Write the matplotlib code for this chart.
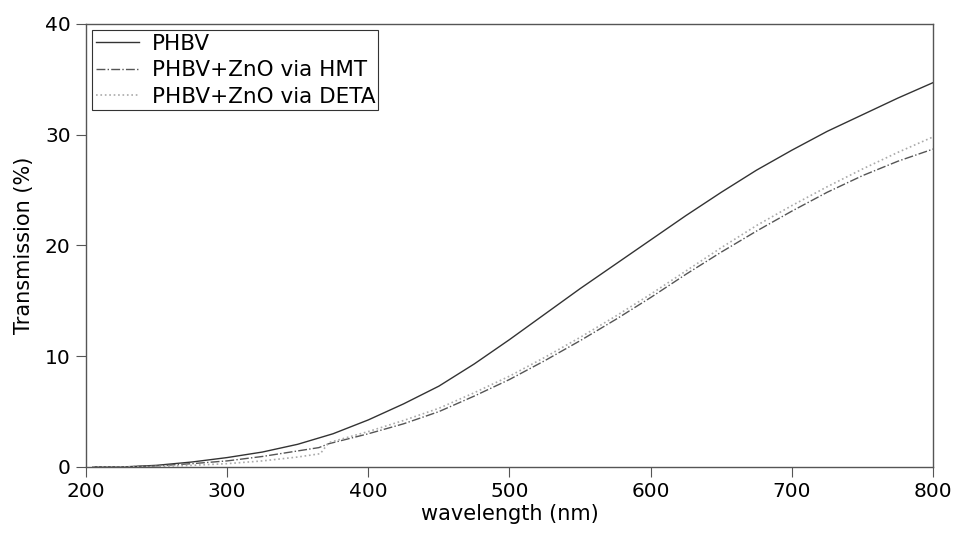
import numpy as np
import matplotlib.pyplot as plt

# wavelength (nm) and transmission (%)
wl_phbv = [205, 225, 250, 275, 300, 325, 350, 375, 400, 425, 450, 475, 500, 525,
           550, 575, 600, 625, 650, 675, 700, 725, 750, 775, 800]
phbv = [0.0, 0.0, 0.15, 0.45, 0.85, 1.35, 2.05, 3.0, 4.25, 5.7, 7.3, 9.3, 11.5, 13.8,
        16.1, 18.3, 20.5, 22.7, 24.8, 26.8, 28.6, 30.3, 31.8, 33.3, 34.7]

wl_hmt = [205, 225, 250, 275, 300, 325, 350, 365, 372, 400, 425, 450, 475, 500, 525,
          550, 575, 600, 625, 650, 675, 700, 725, 750, 775, 800]
hmt = [0.0, 0.0, 0.1, 0.3, 0.55, 0.95, 1.45, 1.75, 2.1, 3.0, 3.9, 5.0, 6.4, 7.9, 9.6,
       11.4, 13.3, 15.3, 17.4, 19.4, 21.3, 23.1, 24.8, 26.3, 27.6, 28.7]

wl_deta = [205, 225, 250, 275, 300, 325, 350, 366, 372, 400, 425, 450, 475, 500, 525,
           550, 575, 600, 625, 650, 675, 700, 725, 750, 775, 800]
deta = [0.0, 0.0, 0.05, 0.15, 0.3, 0.55, 0.9, 1.2, 2.2, 3.2, 4.2, 5.3, 6.7, 8.2, 9.9,
        11.7, 13.6, 15.6, 17.7, 19.8, 21.8, 23.6, 25.3, 26.9, 28.4, 29.8]

plt.rcParams['font.family'] = 'DejaVu Sans'
fig = plt.figure(figsize=(9.55, 5.39), dpi=100)
ax = fig.add_axes([0.090, 0.1336, 0.887, 0.822])

ax.plot(wl_phbv, phbv, color='#333333', lw=1.0, label='PHBV')
ax.plot(wl_hmt, hmt, color='#555555', lw=1.0, ls='-.', label='PHBV+ZnO via HMT')
ax.plot(wl_deta, deta, color='#aaaaaa', lw=1.2, ls=':', label='PHBV+ZnO via DETA')

ax.set_xlim(200, 800)
ax.set_ylim(0, 40)
ax.set_xticks([200, 300, 400, 500, 600, 700, 800])
ax.set_yticks([0, 10, 20, 30, 40])
ax.tick_params(labelsize=14.5, direction='out', length=7, pad=4, color='#555555')
for s in ax.spines.values():
    s.set_color('#555555')
    s.set_linewidth(1.0)
ax.set_xlabel('wavelength (nm)', fontsize=15, labelpad=2)
ax.set_ylabel('Transmission (%)', fontsize=15, labelpad=8)

leg = ax.legend(loc='upper left', fontsize=15.5, fancybox=False, framealpha=1,
                edgecolor='#333333', borderaxespad=0.3, handlelength=2.0,
                handletextpad=0.6, labelspacing=0.3, borderpad=0.15)
leg.get_frame().set_linewidth(0.8)

fig.savefig('out.png', dpi=100)
